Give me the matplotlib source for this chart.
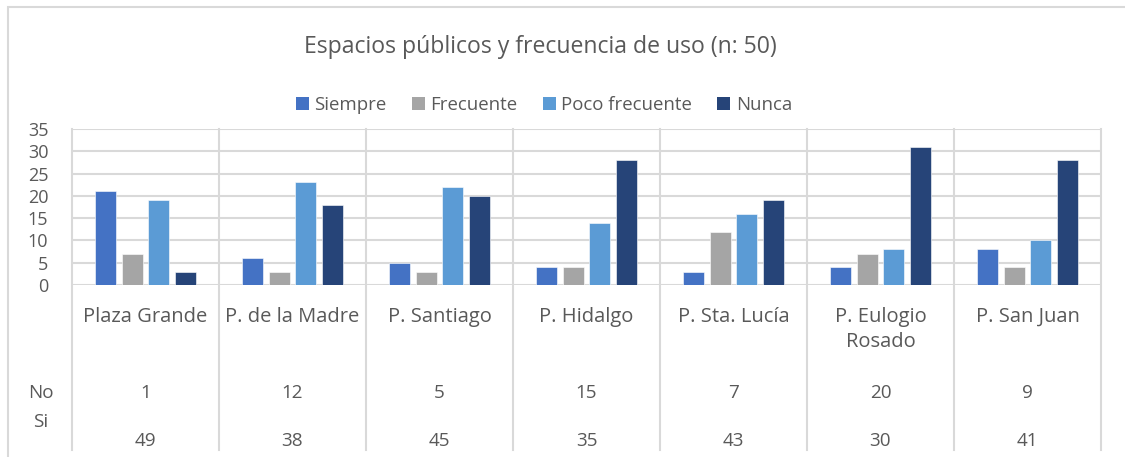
import numpy as np
import matplotlib
matplotlib.use('Agg')
import matplotlib.pyplot as plt
from matplotlib.patches import Patch, Rectangle
from matplotlib.lines import Line2D

plt.rcParams['font.family'] = ['Open Sans', 'DejaVu Sans']

# Data
places = ['Plaza Grande', 'P. de la Madre', 'P. Santiago', 'P. Hidalgo',
          'P. Sta. Lucía', 'P. Eulogio\nRosado', 'P. San Juan']
series_names = ['Siempre', 'Frecuente', 'Poco frecuente', 'Nunca']
siempre = [21, 6, 5, 4, 3, 4, 8]
frecuente = [7, 3, 3, 4, 12, 7, 4]
poco_frecuente = [19, 23, 22, 14, 16, 8, 10]
nunca = [3, 18, 20, 28, 19, 31, 28]
row_no = [1, 12, 5, 15, 7, 20, 9]
row_si = [49, 38, 45, 35, 43, 30, 41]
y_ticks = [0, 5, 10, 15, 20, 25, 30, 35]

colors = ['#4472C4', '#A5A5A5', '#5B9BD5', '#264478']
text_color = '#595959'
grid_color = '#D9D9D9'

W, H = 1125, 457
fig = plt.figure(figsize=(W / 100, H / 100), dpi=100)

# outer chart frame
fig.add_artist(Rectangle((8 / W, -0.05), (W + 20) / W, 1 - 7 / H + 0.05,
                         transform=fig.transFigure, fill=False,
                         edgecolor=grid_color, linewidth=1.5))

left, right, top, bottom = 72, 1101, 129, 285
ax = fig.add_axes([left / W, 1 - bottom / H, (right - left) / W, (bottom - top) / H])

x = np.arange(len(places))
step = 0.1815
width = 0.143
for i, (name, vals) in enumerate(zip(series_names, [siempre, frecuente, poco_frecuente, nunca])):
    ax.bar(x + (i - 1.5) * step, vals, width=width, color=colors[i],
           edgecolor='white', linewidth=0.4, label=name, zorder=3)

ax.set_xlim(-0.5, len(places) - 0.5)
ax.set_ylim(0, 35)
ax.set_yticks(y_ticks)
ax.set_yticklabels([str(t) for t in y_ticks], fontsize=13, color=text_color)
ax.tick_params(axis='y', length=0, pad=17)
ax.set_xticks([])
for s in ax.spines.values():
    s.set_visible(False)
for t in y_ticks:
    ax.axhline(t, color=grid_color, linewidth=1.5, zorder=1)

# vertical separators through the data table
ybot = (bottom - 450) / (bottom - top)
trans = ax.get_xaxis_transform()
for b in np.arange(len(places) + 1) - 0.5:
    ax.add_line(Line2D([b, b], [ybot, 1], transform=trans, color=grid_color,
                       linewidth=1.5, clip_on=False, zorder=1))

def ypos(py):
    return (bottom - py) / (bottom - top)

# category labels and table rows
for i, p in enumerate(places):
    ax.text(i, ypos(307), p, transform=trans, ha='center', va='top',
            fontsize=14.5, color=text_color, linespacing=1.36)
    ax.text(i, ypos(393), str(row_no[i]), transform=trans, ha='center', va='center',
            fontsize=13.6, color=text_color)
    ax.text(i, ypos(441), str(row_si[i]), transform=trans, ha='center', va='center',
            fontsize=13.6, color=text_color)

fig.text(41 / W, 1 - 393 / H, 'No', ha='center', va='center', fontsize=13.6, color=text_color)
fig.text(41 / W, 1 - 422 / H, 'Si', ha='center', va='center', fontsize=13.6, color=text_color)

fig.text(540 / W, 1 - 47 / H, 'Espacios públicos y frecuencia de uso (n: 50)',
         ha='center', va='center', fontsize=16.6, color=text_color)

handles = [Patch(facecolor=c) for c in colors]
fig.legend(handles, series_names, loc='center', bbox_to_anchor=(544 / W, 1 - 105 / H),
           ncol=4, frameon=False, fontsize=13.4, handlelength=0.7, handleheight=0.7,
           handletextpad=0.3, columnspacing=1.35, labelcolor=text_color)

fig.savefig('out.png', dpi=100)
